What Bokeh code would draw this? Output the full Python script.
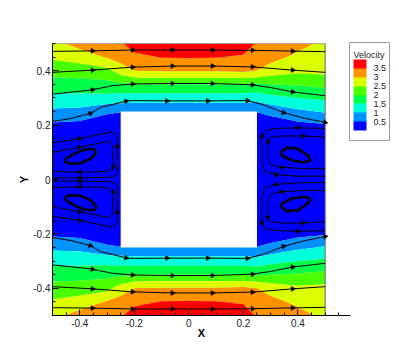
import numpy as np
from bokeh.plotting import figure
from bokeh.models import FixedTicker, ColorBar, LinearColorMapper, Range1d, AllLabels
from bokeh.embed import file_html
from bokeh.resources import INLINE

# ---------------- data ----------------
levels = [0.0, 0.5, 1.0, 1.5, 2.0, 2.5, 3.0, 3.5, 4.0]
band_colors = ["#0000FF", "#0092FF", "#00FFDB", "#00FF49", "#49FF00", "#DBFF00", "#FF9200", "#FF0000"]
legend_title = "Velocity"
legend_ticks = [0.5, 1.0, 1.5, 2.0, 2.5, 3.0, 3.5]
legend_labels = ["0.5", "1", "1.5", "2", "2.5", "3", "3.5"]

x_ticks = [-0.4, -0.2, 0.0, 0.2, 0.4]
x_tick_labels = ["-0.4", "-0.2", "0", "0.2", "0.4"]
x_minor = [-0.5, -0.45, -0.35, -0.3, -0.25, -0.15, -0.1, -0.05, 0.05, 0.1, 0.15, 0.25, 0.3, 0.35, 0.45, 0.5, 0.55]
y_ticks = [-0.4, -0.2, 0.0, 0.2, 0.4]
y_tick_labels = ["-0.4", "-0.2", "0", "0.2", "0.4"]
y_minor = [-0.5, -0.45, -0.35, -0.3, -0.25, -0.15, -0.1, -0.05, 0.05, 0.1, 0.15, 0.25, 0.3, 0.35, 0.45, 0.5]

domain_x = [-0.5, 0.5]
domain_y = [-0.5, 0.5]
obstacle_x = [-0.25, 0.25]
obstacle_y = [-0.25, 0.25]

x_grid = [-0.5, -0.4, -0.3, -0.25, -0.2, -0.1, 0.0, 0.1, 0.2, 0.25, 0.3, 0.4, 0.5]
y_grid = [-0.5, -0.45, -0.4, -0.35, -0.3, -0.25, -0.2, -0.15, -0.1, 0.0,
          0.1, 0.15, 0.2, 0.25, 0.3, 0.35, 0.4, 0.45, 0.5]
velocity = [
    [2.85, 3.20, 3.30, 3.45, 3.70, 3.85, 3.85, 3.85, 3.75, 3.45, 3.35, 3.15, 2.90],
    [2.57, 2.70, 3.05, 3.20, 3.40, 3.52, 3.53, 3.52, 3.45, 3.30, 3.15, 2.90, 2.85],
    [2.20, 2.25, 2.35, 2.75, 3.00, 3.05, 3.05, 3.05, 3.10, 3.00, 2.80, 2.60, 2.65],
    [1.80, 1.80, 1.85, 1.90, 2.00, 2.00, 2.00, 2.00, 2.00, 1.95, 2.00, 2.05, 2.15],
    [1.35, 1.35, 1.35, 1.30, 1.25, 1.25, 1.25, 1.25, 1.25, 1.20, 1.35, 1.50, 1.60],
    [0.90, 0.85, 0.58, 0.52, 0.55, 0.55, 0.55, 0.55, 0.55, 0.52, 0.62, 0.90, 1.05],
    [0.40, 0.35, 0.20, 0.20, 0.20, 0.20, 0.20, 0.20, 0.20, 0.20, 0.25, 0.35, 0.45],
    [0.20, 0.20, 0.20, 0.20, 0.20, 0.20, 0.20, 0.20, 0.20, 0.20, 0.20, 0.20, 0.20],
    [0.15, 0.15, 0.15, 0.15, 0.15, 0.15, 0.15, 0.15, 0.15, 0.15, 0.15, 0.15, 0.15],
    [0.15, 0.15, 0.15, 0.15, 0.15, 0.15, 0.15, 0.15, 0.15, 0.15, 0.15, 0.15, 0.15],
    [0.15, 0.15, 0.15, 0.15, 0.15, 0.15, 0.15, 0.15, 0.15, 0.15, 0.15, 0.15, 0.15],
    [0.20, 0.20, 0.20, 0.20, 0.20, 0.20, 0.20, 0.20, 0.20, 0.20, 0.20, 0.20, 0.20],
    [0.40, 0.35, 0.20, 0.20, 0.20, 0.20, 0.20, 0.20, 0.20, 0.20, 0.25, 0.35, 0.45],
    [0.90, 0.85, 0.58, 0.52, 0.55, 0.55, 0.55, 0.55, 0.55, 0.52, 0.62, 0.90, 1.05],
    [1.35, 1.35, 1.35, 1.30, 1.25, 1.25, 1.25, 1.25, 1.25, 1.20, 1.35, 1.50, 1.60],
    [1.80, 1.80, 1.85, 1.90, 2.00, 2.00, 2.00, 2.00, 2.00, 1.95, 2.00, 2.05, 2.15],
    [2.20, 2.25, 2.35, 2.75, 3.00, 3.05, 3.05, 3.05, 3.10, 3.00, 2.80, 2.60, 2.65],
    [2.57, 2.70, 3.05, 3.20, 3.40, 3.52, 3.53, 3.52, 3.45, 3.30, 3.15, 2.90, 2.85],
    [2.85, 3.20, 3.30, 3.45, 3.70, 3.85, 3.85, 3.85, 3.75, 3.45, 3.35, 3.15, 2.90],
]

# streamlines: channel lines (x, y, arrow vertex indices)
s1_x = [-0.5, -0.353, -0.206, -0.06, 0.087, 0.234, 0.381, 0.5]
s1_y = [0.471, 0.473, 0.476, 0.476, 0.476, 0.475, 0.472, 0.470]
s1_arrows = [1, 2, 3, 4, 5, 6]
s2_x = [-0.5, -0.353, -0.206, -0.06, 0.087, 0.234, 0.381, 0.5]
s2_y = [0.394, 0.402, 0.413, 0.417, 0.417, 0.414, 0.402, 0.394]
s2_arrows = [1, 2, 3, 4, 5, 6]
s3_x = [-0.5, -0.42, -0.353, -0.28, -0.206, -0.06, 0.087, 0.234, 0.30, 0.381, 0.5]
s3_y = [0.314, 0.322, 0.330, 0.345, 0.351, 0.353, 0.353, 0.348, 0.338, 0.322, 0.308]
s3_arrows = [2, 4, 5, 6, 7, 9]
s4_x = [-0.5, -0.43, -0.361, -0.324, -0.23, -0.2, -0.08, 0.07, 0.215, 0.27, 0.348, 0.42, 0.5]
s4_y = [0.213, 0.225, 0.243, 0.265, 0.288, 0.290, 0.289, 0.289, 0.290, 0.276, 0.246, 0.226, 0.210]
s4_arrows = [2, 4, 6, 7, 8, 10, 12]
s5_x = [-0.5, -0.43, -0.361, -0.324, -0.23, -0.2, -0.08, 0.07, 0.215, 0.27, 0.348, 0.42, 0.5]
s5_y = [-0.213, -0.225, -0.243, -0.265, -0.288, -0.290, -0.289, -0.289, -0.290, -0.276, -0.246, -0.226, -0.210]
s5_arrows = [2, 4, 6, 7, 8, 10, 12]
s6_x = [-0.5, -0.42, -0.353, -0.28, -0.206, -0.06, 0.087, 0.234, 0.30, 0.381, 0.5]
s6_y = [-0.314, -0.322, -0.330, -0.345, -0.351, -0.353, -0.353, -0.348, -0.338, -0.322, -0.308]
s6_arrows = [2, 4, 5, 6, 7, 9]
s7_x = [-0.5, -0.353, -0.206, -0.06, 0.087, 0.234, 0.381, 0.5]
s7_y = [-0.394, -0.402, -0.413, -0.417, -0.417, -0.414, -0.402, -0.394]
s7_arrows = [1, 2, 3, 4, 5, 6]
s8_x = [-0.5, -0.353, -0.206, -0.06, 0.087, 0.234, 0.381, 0.5]
s8_y = [-0.471, -0.473, -0.476, -0.476, -0.476, -0.475, -0.472, -0.470]
s8_arrows = [1, 2, 3, 4, 5, 6]

# recirculation, upstream (left) side
el1_x = [-0.5, -0.4, -0.33, -0.285, -0.265, -0.262, -0.262, -0.268, -0.29, -0.4, -0.5]
el1_y = [0.135, 0.150, 0.165, 0.175, 0.165, 0.120, 0.030, 0.014, 0.008, 0.006, 0.006]
el1_arrows = [1, 5, 9]
el2_x = [-0.5, -0.4, -0.32, -0.29, -0.278, -0.278, -0.29, -0.33, -0.4, -0.5]
el2_y = [0.100, 0.118, 0.135, 0.140, 0.125, 0.045, 0.032, 0.028, 0.027, 0.030]
el2_arrows = [1, 5, 8]
el3_x = [-0.452, -0.422, -0.385, -0.349, -0.339, -0.361, -0.397, -0.434, -0.452, -0.452]
el3_y = [0.076, 0.094, 0.109, 0.113, 0.100, 0.076, 0.060, 0.058, 0.063, 0.076]
el4_x = [-0.5, -0.4, -0.33, -0.285, -0.265, -0.262, -0.262, -0.268, -0.29, -0.4, -0.5]
el4_y = [-0.135, -0.150, -0.165, -0.175, -0.165, -0.120, -0.030, -0.014, -0.008, -0.006, -0.006]
el4_arrows = [1, 5, 9]
el5_x = [-0.5, -0.4, -0.32, -0.29, -0.278, -0.278, -0.29, -0.33, -0.4, -0.5]
el5_y = [-0.100, -0.118, -0.135, -0.140, -0.125, -0.045, -0.032, -0.028, -0.027, -0.030]
el5_arrows = [1, 5, 8]
el6_x = [-0.452, -0.422, -0.385, -0.349, -0.339, -0.361, -0.397, -0.434, -0.452, -0.452]
el6_y = [-0.076, -0.094, -0.109, -0.113, -0.100, -0.076, -0.060, -0.058, -0.063, -0.076]

# recirculation, downstream (right) side
er1_x = [0.5, 0.4, 0.32, 0.28, 0.268, 0.268, 0.28, 0.32, 0.4, 0.5]
er1_y = [0.012, 0.012, 0.018, 0.030, 0.060, 0.160, 0.180, 0.188, 0.190, 0.188]
er1_arrows = [2, 5, 8]
er2_x = [0.5, 0.42, 0.34, 0.30, 0.29, 0.29, 0.30, 0.34, 0.42, 0.5]
er2_y = [0.040, 0.040, 0.045, 0.055, 0.075, 0.140, 0.155, 0.160, 0.160, 0.155]
er2_arrows = [2, 5, 8]
er3_x = [0.337, 0.36, 0.40, 0.44, 0.445, 0.42, 0.38, 0.345, 0.337]
er3_y = [0.100, 0.117, 0.113, 0.085, 0.070, 0.063, 0.070, 0.085, 0.100]
er4_x = [0.5, 0.4, 0.32, 0.28, 0.268, 0.268, 0.28, 0.32, 0.4, 0.5]
er4_y = [-0.012, -0.012, -0.018, -0.030, -0.060, -0.160, -0.180, -0.188, -0.190, -0.188]
er4_arrows = [2, 5, 8]
er5_x = [0.5, 0.42, 0.34, 0.30, 0.29, 0.29, 0.30, 0.34, 0.42, 0.5]
er5_y = [-0.040, -0.040, -0.045, -0.055, -0.075, -0.140, -0.155, -0.160, -0.160, -0.155]
er5_arrows = [2, 5, 8]
er6_x = [0.337, 0.36, 0.40, 0.44, 0.445, 0.42, 0.38, 0.345, 0.337]
er6_y = [-0.100, -0.117, -0.113, -0.085, -0.070, -0.063, -0.070, -0.085, -0.100]

thin_lines = [
    (s1_x, s1_y, s1_arrows), (s2_x, s2_y, s2_arrows), (s3_x, s3_y, s3_arrows), (s4_x, s4_y, s4_arrows),
    (s5_x, s5_y, s5_arrows), (s6_x, s6_y, s6_arrows), (s7_x, s7_y, s7_arrows), (s8_x, s8_y, s8_arrows),
    (el1_x, el1_y, el1_arrows), (el2_x, el2_y, el2_arrows), (el4_x, el4_y, el4_arrows), (el5_x, el5_y, el5_arrows),
    (er1_x, er1_y, er1_arrows), (er2_x, er2_y, er2_arrows), (er4_x, er4_y, er4_arrows), (er5_x, er5_y, er5_arrows),
]
thick_loops = [(el3_x, el3_y), (el6_x, el6_y), (er3_x, er3_y), (er6_x, er6_y)]

FONT = "Liberation Sans"

# ---------------- figure ----------------
FW, FH = 298, 272
p = figure(frame_width=FW, frame_height=FH,
           x_range=Range1d(-0.5, 0.593), y_range=Range1d(-0.5, 0.5),
           output_backend="svg", toolbar_location=None,
           min_border_left=52, min_border_top=43, min_border_bottom=10, min_border_right=45)
p.outline_line_color = None
p.xgrid.visible = False
p.ygrid.visible = False
p.background_fill_color = "white"

p.contour(x=x_grid, y=y_grid, z=np.array(velocity), levels=levels,
          fill_color=band_colors, line_color=None)

p.quad(left=[obstacle_x[0]], right=[obstacle_x[1]], bottom=[obstacle_y[0]], top=[obstacle_y[1]],
       fill_color="white", line_color=None)

p.line(x=[domain_x[0], domain_x[1], domain_x[1]], y=[domain_y[1], domain_y[1], domain_y[0]],
       line_color="#666666", line_width=1)

p.multi_line(xs=[l[0] for l in thin_lines], ys=[l[1] for l in thin_lines],
             line_color="black", line_width=1)
p.multi_line(xs=[l[0] for l in thick_loops], ys=[l[1] for l in thick_loops],
             line_color="black", line_width=2.5)

ax_, ay_, ang_ = [], [], []
for xs, ys, idx in thin_lines:
    for i in idx:
        i0 = max(i - 1, 0)
        i1 = min(i + 1, len(xs) - 1)
        ax_.append(xs[i])
        ay_.append(ys[i])
        ang_.append(float(np.arctan2(ys[i1] - ys[i0], xs[i1] - xs[i0]) - np.pi / 2))
p.scatter(x=ax_, y=ay_, angle=ang_, marker="triangle", size=5,
          fill_color="black", line_color="black", line_width=0.5)

# axes
p.xaxis.ticker = FixedTicker(ticks=x_ticks, minor_ticks=x_minor)
p.yaxis.ticker = FixedTicker(ticks=y_ticks, minor_ticks=y_minor)
p.xaxis.major_label_overrides = dict(zip(x_ticks, x_tick_labels))
p.yaxis.major_label_overrides = dict(zip(y_ticks, y_tick_labels))
p.xaxis.axis_label = "X"
p.yaxis.axis_label = "Y"
for ax in (p.xaxis[0], p.yaxis[0]):
    ax.major_tick_in = 6
    ax.major_tick_out = 0
    ax.minor_tick_in = 3
    ax.minor_tick_out = 0
    ax.axis_line_color = "black"
    ax.major_tick_line_color = "black"
    ax.minor_tick_line_color = "black"
    ax.major_label_text_font = FONT
    ax.major_label_text_font_size = "10px"
    ax.major_label_text_color = "#222222"
    ax.axis_label_text_font = FONT
    ax.axis_label_text_font_size = "11px"
    ax.axis_label_text_font_style = "bold"
    ax.axis_label_text_color = "black"
p.xaxis.major_label_standoff = 3
p.xaxis.axis_label_standoff = -3
p.yaxis.major_label_standoff = 2
p.yaxis.axis_label_standoff = 0

# legend frame with its title: a blank horizontal colour bar (title sits on top, horizontally)
frame_cb = ColorBar(color_mapper=LinearColorMapper(palette=["#ffffff"], low=0, high=1),
                    orientation="horizontal", title=legend_title,
                    title_text_font=FONT, title_text_font_size="9px", title_text_font_style="normal",
                    title_text_color="#222222", title_standoff=2,
                    width=32, height=76, padding=4, margin=0,
                    ticker=FixedTicker(ticks=[]), major_tick_line_color=None, minor_tick_line_color=None,
                    bar_line_color=None, border_line_color="#999999", background_fill_color="white",
                    location=(297, 175))
p.add_layout(frame_cb, "center")

mapper = LinearColorMapper(palette=band_colors, low=levels[0], high=levels[-1])
cb = ColorBar(color_mapper=mapper, ticker=FixedTicker(ticks=legend_ticks),
              major_label_overrides=dict(zip(legend_ticks, legend_labels)),
              major_label_policy=AllLabels(),
              title=None, width=13, height=71, padding=0, margin=0,
              major_tick_line_color=None, bar_line_color=None,
              border_line_color=None, background_fill_color=None,
              label_standoff=7,
              major_label_text_font=FONT, major_label_text_font_size="9px",
              major_label_text_color="#222222",
              location=(301, 185))
p.add_layout(cb, "center")

open("out.html", "w").write(file_html(p, INLINE))
